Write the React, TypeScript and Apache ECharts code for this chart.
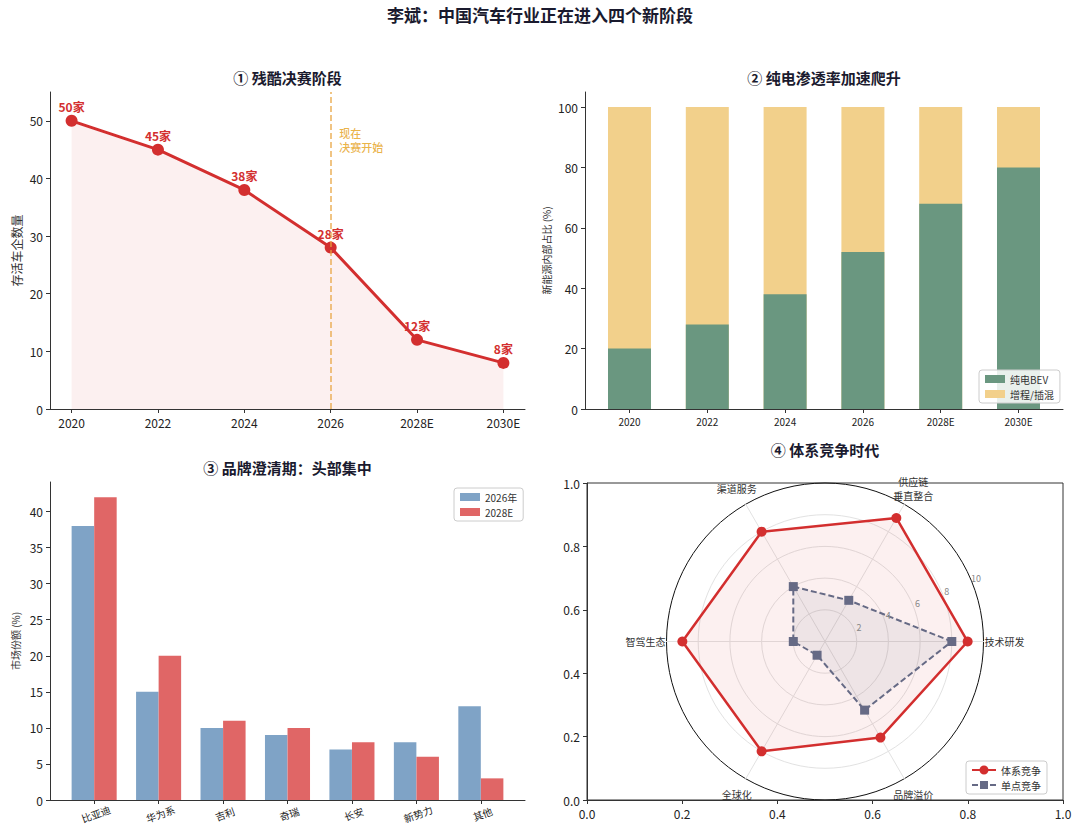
import React, { useEffect, useRef } from "react";
import * as echarts from "echarts";

const FONT = '"Noto Sans CJK SC", "Noto Sans", sans-serif';

// ---- data ----
const years = ["2020", "2022", "2024", "2026", "2028E", "2030E"];
const survivors = [50, 45, 38, 28, 12, 8];
const survivorTicks = [0, 10, 20, 30, 40, 50];

const bevShare = [20, 28, 38, 52, 68, 80];
const phevShare = [80, 72, 62, 48, 32, 20];
const shareTicks = [0, 20, 40, 60, 80, 100];

const brands = ["比亚迪", "华为系", "吉利", "奇瑞", "长安", "新势力", "其他"];
const share2026 = [38, 15, 10, 9, 7, 8, 13];
const share2028 = [42, 20, 11, 10, 8, 6, 3];
const brandTicks = [0, 5, 10, 15, 20, 25, 30, 35, 40];

const dims = ["技术研发", "供应链\n垂直整合", "渠道服务", "智驾生态", "全球化", "品牌溢价"];
const systemScores = [9, 9, 8, 9, 8, 7];
const singleScores = [8, 3, 4, 2, 1, 5];
const ringTicks = [2, 4, 6, 8, 10];

const NOW_INDEX = 3;

// ---- styles ----
const RED = "#d32f2f";
const GRAY = "#666a85";
const GOLD = "#E8A33D";
const GREEN = "#6a9780";
const YELLOW = "#f2d08b";
const BLUE = "#7fa3c6";
const RED2 = "#e06666";

const RADAR_C = [825, 641.5];
const RADAR_R = 158.5;

const idx = (n: number) => Array.from({ length: n }, (_, i) => i);

const axisLine = { show: true, onZero: false, lineStyle: { color: "#333", width: 1 } };
const tickStyle = (vals: number[]) => ({ show: true, length: 4, customValues: vals, lineStyle: { color: "#333" } });

const ICON_LINE_DOT =
  "path://M0,4 L24,4 L24,6 L0,6 Z M12,0.5 A4.5,4.5 0 1,1 12,9.5 A4.5,4.5 0 1,1 12,0.5 Z";
const ICON_DASH_SQ =
  "path://M0,4 L6,4 L6,6 L0,6 Z M8.5,4 L15.5,4 L15.5,6 L8.5,6 Z M18,4 L24,4 L24,6 L18,6 Z M8,1 L16,1 L16,9 L8,9 Z";

const legendBox = {
  orient: "vertical" as const,
  borderColor: "#cccccc",
  borderWidth: 1,
  borderRadius: 3,
  backgroundColor: "rgba(255,255,255,0.85)",
  padding: [4, 6, 4, 6],
  itemGap: 5,
  textStyle: { fontSize: 10, color: "#333", fontFamily: FONT },
  selectedMode: false,
};

function buildOption() {
  const titles = [
    { text: "李斌：中国汽车行业正在进入四个新阶段", left: 540, top: 6, size: 17 },
    { text: "① 残酷决赛阶段", left: 287.5, top: 70, size: 15 },
    { text: "② 纯电渗透率加速爬升", left: 824, top: 70, size: 15 },
    { text: "③ 品牌澄清期：头部集中", left: 287.5, top: 460, size: 15 },
    { text: "④ 体系竞争时代", left: 825, top: 442, size: 15 },
  ].map((t) => ({
    text: t.text,
    left: t.left,
    top: t.top,
    textAlign: "center",
    padding: 0,
    textStyle: { fontSize: t.size, fontWeight: "bold", color: "#1a1a2e", fontFamily: FONT },
  }));

  const ringLabels = ringTicks.map((t) => {
    const a = (22.5 * Math.PI) / 180;
    const r = (t / 10) * RADAR_R + 5;
    return {
      type: "text",
      silent: true,
      z: 10,
      x: RADAR_C[0] + r * Math.cos(a),
      y: RADAR_C[1] - r * Math.sin(a),
      style: { text: String(t), fontSize: 9, fill: "#888", align: "center", verticalAlign: "middle", fontFamily: FONT },
    };
  });

  // radar axis names, placed like matplotlib's theta tick labels
  const dimLabels = dims.map((n, i) => {
    const a = (i * 60 * Math.PI) / 180;
    const c = Math.cos(a);
    const s = Math.sin(a);
    const horizontal = Math.abs(s) < 0.1;
    const r = horizontal ? RADAR_R + 1 : RADAR_R + 18;
    return {
      type: "text",
      silent: true,
      z: 10,
      x: RADAR_C[0] + r * c,
      y: RADAR_C[1] - r * s,
      style: {
        text: n,
        fontSize: 10,
        lineHeight: 14,
        fill: "#333",
        align: horizontal ? (c > 0 ? "left" : "right") : "center",
        verticalAlign: "middle",
        fontFamily: FONT,
      },
    };
  });

  return {
    animation: false,
    backgroundColor: "#ffffff",
    textStyle: { fontFamily: FONT },
    title: titles,
    graphic: [...ringLabels, ...dimLabels],
    grid: [
      { left: 50, top: 92, width: 475, height: 317 },
      { left: 585, top: 92, width: 478, height: 317 },
      { left: 50, top: 482, width: 475, height: 318 },
      { left: 587, top: 483, width: 476, height: 317, show: true, borderColor: "#333", borderWidth: 1, backgroundColor: "transparent" },
    ],
    xAxis: [
      {
        type: "value", gridIndex: 0, min: -0.25, max: 5.25,
        axisLine, axisTick: tickStyle(idx(6)), splitLine: { show: false },
        axisLabel: { customValues: idx(6), formatter: (v: number) => years[Math.round(v)], fontSize: 12, color: "#222", margin: 7 },
      },
      {
        type: "value", gridIndex: 1, min: -0.572, max: 5.572,
        axisLine, axisTick: tickStyle(idx(6)), splitLine: { show: false },
        axisLabel: { customValues: idx(6), formatter: (v: number) => years[Math.round(v)], fontSize: 10, color: "#222", margin: 7 },
      },
      {
        type: "value", gridIndex: 2, min: -0.685, max: 6.685,
        axisLine, axisTick: tickStyle(idx(7)), splitLine: { show: false },
        axisLabel: {
          customValues: idx(7), formatter: (v: number) => brands[Math.round(v)], fontSize: 10, color: "#222",
          rotate: 20, margin: 9, align: "center", verticalAlign: "top",
        },
      },
      {
        type: "value", gridIndex: 3, min: 0, max: 1, interval: 0.2,
        axisLine, axisTick: { show: true, length: 4, lineStyle: { color: "#333" } }, splitLine: { show: false },
        axisLabel: { formatter: (v: number) => v.toFixed(1), fontSize: 12, color: "#222", margin: 7 },
      },
    ],
    yAxis: [
      {
        type: "value", gridIndex: 0, min: 0, max: 55,
        axisLine, axisTick: tickStyle(survivorTicks), splitLine: { show: false },
        axisLabel: { customValues: survivorTicks, fontSize: 12, color: "#222", margin: 7 },
        name: "存活车企数量", nameLocation: "middle", nameGap: 28,
        nameTextStyle: { fontSize: 12, color: "#333", fontFamily: FONT },
      },
      {
        type: "value", gridIndex: 1, min: 0, max: 105,
        axisLine, axisTick: tickStyle(shareTicks), splitLine: { show: false },
        axisLabel: { customValues: shareTicks, fontSize: 12, color: "#222", margin: 7 },
        name: "新能源内部占比 (%)", nameLocation: "middle", nameGap: 34,
        nameTextStyle: { fontSize: 10, color: "#333", fontFamily: FONT },
      },
      {
        type: "value", gridIndex: 2, min: 0, max: 44.1,
        axisLine, axisTick: tickStyle(brandTicks), splitLine: { show: false },
        axisLabel: { customValues: brandTicks, fontSize: 12, color: "#222", margin: 7 },
        name: "市场份额 (%)", nameLocation: "middle", nameGap: 30,
        nameTextStyle: { fontSize: 10, color: "#333", fontFamily: FONT },
      },
      {
        type: "value", gridIndex: 3, min: 0, max: 1, interval: 0.2,
        axisLine, axisTick: { show: true, length: 4, lineStyle: { color: "#333" } }, splitLine: { show: false },
        axisLabel: { formatter: (v: number) => v.toFixed(1), fontSize: 12, color: "#222", margin: 7 },
      },
    ],
    radar: {
      center: RADAR_C,
      radius: RADAR_R,
      startAngle: 0,
      shape: "circle",
      splitNumber: 5,
      indicator: dims.map((n) => ({ name: n, min: 0, max: 10 })),
      axisName: { show: false },
      splitLine: { lineStyle: { color: ["#e2e2e2", "#e2e2e2", "#e2e2e2", "#e2e2e2", "#e2e2e2", "#111111"], width: 1 } },
      splitArea: { show: false },
      axisLine: { lineStyle: { color: "#e2e2e2", width: 1 } },
      axisTick: { show: false },
      axisLabel: { show: false },
    },
    legend: [
      { ...legendBox, data: ["纯电BEV", "增程/插混"], left: 979, top: 370, icon: "rect", itemWidth: 20, itemHeight: 8 },
      { ...legendBox, data: ["2026年", "2028E"], left: 454, top: 488, icon: "rect", itemWidth: 20, itemHeight: 8 },
      {
        ...legendBox,
        data: [
          { name: "体系竞争", icon: ICON_LINE_DOT },
          { name: "单点竞争", icon: ICON_DASH_SQ },
        ],
        left: 966, top: 761, itemWidth: 24, itemHeight: 10,
      },
    ],
    series: [
      {
        type: "line", name: "存活车企", xAxisIndex: 0, yAxisIndex: 0,
        data: survivors.map((v, i) => [i, v]),
        symbol: "circle", symbolSize: 12,
        lineStyle: { color: RED, width: 3 },
        itemStyle: { color: RED },
        areaStyle: { color: "rgba(211,47,47,0.1)" },
        label: {
          show: true, position: "top", distance: 2,
          formatter: (p: any) => `${p.value[1]}家`,
          color: RED, fontWeight: "bold", fontSize: 12, fontFamily: FONT,
        },
        markLine: {
          silent: true, symbol: "none", label: { show: false },
          lineStyle: { color: GOLD, type: [6, 3], width: 1.5, opacity: 0.85 },
          data: [{ xAxis: NOW_INDEX }],
        },
        z: 3,
      },
      {
        type: "scatter", name: "annot", xAxisIndex: 0, yAxisIndex: 0, silent: true,
        data: [[NOW_INDEX + 0.1, 46.7]], symbolSize: 0,
        label: {
          show: true, position: "right", distance: 0, formatter: "现在\n决赛开始",
          color: "#E5A017", fontSize: 11, lineHeight: 14, align: "left", fontWeight: 500, fontFamily: FONT,
        },
      },
      {
        // total height (BEV + PHEV) drawn first; BEV drawn over it from the base
        type: "bar", name: "增程/插混", xAxisIndex: 1, yAxisIndex: 1,
        data: phevShare.map((v, i) => [i, v + bevShare[i]]), barWidth: 43, barGap: "-100%",
        itemStyle: { color: YELLOW }, z: 2,
      },
      {
        type: "bar", name: "纯电BEV", xAxisIndex: 1, yAxisIndex: 1,
        data: bevShare.map((v, i) => [i, v]), barWidth: 43, barGap: "-100%",
        itemStyle: { color: GREEN }, z: 3,
      },
      {
        type: "bar", name: "2026年", xAxisIndex: 2, yAxisIndex: 2,
        data: share2026.map((v, i) => [i - 0.175, v]), barWidth: 22.5, barGap: "-100%",
        itemStyle: { color: BLUE },
      },
      {
        type: "bar", name: "2028E", xAxisIndex: 2, yAxisIndex: 2,
        data: share2028.map((v, i) => [i + 0.175, v]), barWidth: 22.5, barGap: "-100%",
        itemStyle: { color: RED2 },
      },
      {
        type: "radar", name: "体系", radarIndex: 0, z: 4,
        data: [
          {
            name: "体系竞争", value: systemScores, symbol: "circle", symbolSize: 10,
            lineStyle: { color: RED, width: 2.5 }, itemStyle: { color: RED },
            areaStyle: { color: "rgba(211,47,47,0.1)" },
          },
          {
            name: "单点竞争", value: singleScores, symbol: "rect", symbolSize: 9,
            lineStyle: { color: GRAY, width: 2, type: [6, 3] }, itemStyle: { color: GRAY },
            areaStyle: { color: "rgba(102,106,133,0.13)" },
          },
        ],
      },
    ],
  };
}

export default function App() {
  const ref = useRef<HTMLDivElement>(null);
  useEffect(() => {
    document.body.style.margin = "0";
    if (!ref.current) return;
    const chart = echarts.init(ref.current, undefined, { renderer: "svg" });
    chart.setOption(buildOption() as any);
    return () => chart.dispose();
  }, []);
  return <div ref={ref} style={{ width: 1080, height: 838 }} />;
}
